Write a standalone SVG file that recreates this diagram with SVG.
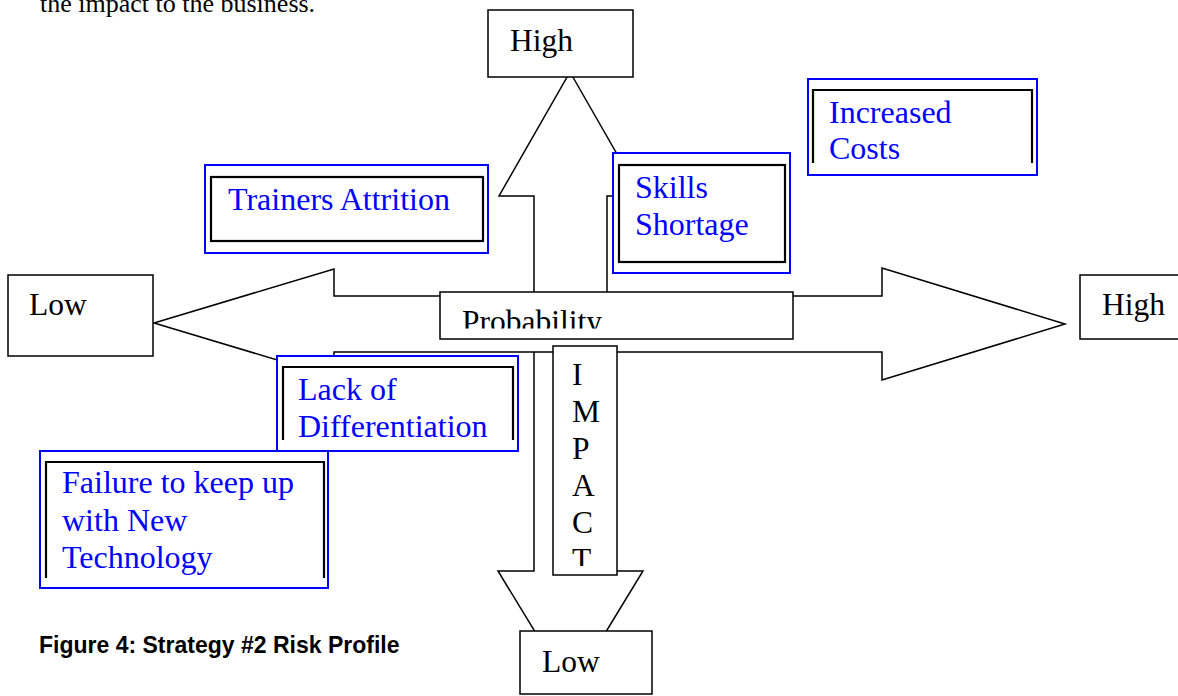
<svg xmlns="http://www.w3.org/2000/svg" width="1178" height="696" viewBox="0 0 1178 696">
<style>
.bg{fill:#fff}
.arrow{fill:#fff;stroke:#000;stroke-width:1.5;stroke-linejoin:miter}
.box{fill:#fff;stroke:#000;stroke-width:1.5}
.outer{fill:#fff;stroke:#0000ff;stroke-width:2}
.inner{fill:none;stroke:#000;stroke-width:2.2}
.t{font-family:"Liberation Serif","Times New Roman",serif;font-size:31.5px;fill:#000}
.b{font-family:"Liberation Serif","Times New Roman",serif;font-size:32px;fill:#0000ff}
.body{font-family:"Liberation Serif","Times New Roman",serif;font-size:26px;fill:#000}
.cap{font-family:"Liberation Sans",Arial,sans-serif;font-size:23px;font-weight:bold;fill:#000}
</style>
<defs>
<clipPath id="clipProb"><rect x="440" y="292" width="353" height="36.5"/></clipPath>
<clipPath id="clipImp"><rect x="553" y="346" width="64" height="220"/></clipPath>
</defs>
<rect class="bg" x="0" y="0" width="1178" height="696"/>
<text class="body" x="40" y="12">the impact to the business.</text>

<g id="connectors">
<polygon class="arrow" points="570,72 641,196 607,196 607,571 643,571 570.5,690 498,571 534,571 534,196 499,196"/>
<polygon class="arrow" points="154,323 334,269 334,296 882,296 882,268 1065,324 882,380 882,352 334,352 334,377"/>
</g>

<g id="probability">
<rect class="box" x="440" y="292" width="353" height="47"/>
<text class="t" x="462" y="332" clip-path="url(#clipProb)">Probability</text>
</g>
<g id="impact">
<rect class="box" x="553" y="346" width="64" height="229"/>
<g clip-path="url(#clipImp)">
<text class="t" x="572" y="385">I</text>
<text class="t" x="572" y="422">M</text>
<text class="t" x="572" y="459">P</text>
<text class="t" x="572" y="496">A</text>
<text class="t" x="572" y="533">C</text>
<text class="t" x="572" y="570">T</text>
</g>
</g>

<g id="high-top">
<rect class="box" x="488" y="10" width="145" height="67"/>
<text class="t" x="510" y="51">High</text>
</g>
<g id="low-left">
<rect class="box" x="8" y="275" width="145" height="81"/>
<text class="t" x="29" y="315">Low</text>
</g>
<g id="high-right">
<rect class="box" x="1080" y="275" width="110" height="64"/>
<text class="t" x="1102" y="315">High</text>
</g>
<g id="low-bottom">
<rect class="box" x="520" y="631" width="132" height="63"/>
<text class="t" x="542" y="672">Low</text>
</g>

<g id="trainers-attrition">
<rect class="outer" x="205" y="165" width="283" height="88"/>
<rect class="inner" x="211" y="177" width="272" height="64"/>
<text class="b" x="228" y="210">Trainers Attrition</text>
</g>
<g id="skills-shortage">
<rect class="outer" x="613" y="153" width="177" height="120"/>
<rect class="inner" x="619" y="165" width="166" height="97"/>
<text class="b" x="635" y="198">Skills</text>
<text class="b" x="635" y="235">Shortage</text>
</g>
<g id="increased-costs">
<rect class="outer" x="808" y="79" width="229" height="96"/>
<path class="inner" d="M813,163 V90 H1032 V163"/>
<text class="b" x="829" y="123">Increased</text>
<text class="b" x="829" y="159">Costs</text>
</g>
<g id="lack-of-differentiation">
<rect class="outer" x="277" y="356" width="241" height="95"/>
<path class="inner" d="M283,440 V367 H513 V440"/>
<text class="b" x="298" y="400">Lack of</text>
<text class="b" x="298" y="437">Differentiation</text>
</g>
<g id="failure-new-technology">
<rect class="outer" x="40" y="451" width="288" height="137"/>
<path class="inner" d="M46,578 V462 H324 V578"/>
<text class="b" x="62" y="493">Failure to keep up</text>
<text class="b" x="62" y="531">with New</text>
<text class="b" x="62" y="568">Technology</text>
</g>

<text class="cap" x="39" y="653">Figure 4: Strategy #2 Risk Profile</text>
</svg>
